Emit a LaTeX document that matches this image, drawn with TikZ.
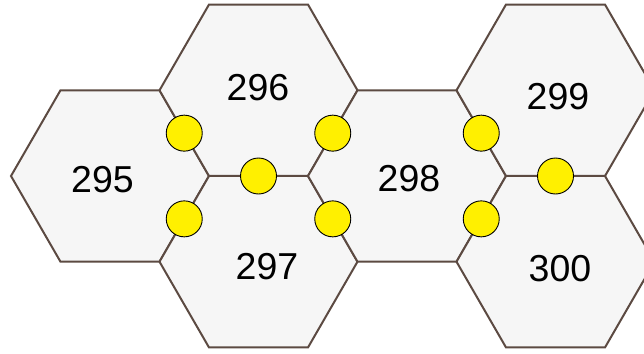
\documentclass[tikz,border=0pt]{standalone}
\usepackage{fontspec}
\setmainfont{Liberation Sans}
\usetikzlibrary{calc}
\definecolor{edgec}{RGB}{92,74,66}
\definecolor{hexfill}{RGB}{246,246,246}
\definecolor{dotc}{RGB}{255,240,0}
\tikzset{
  hexcell/.style={draw=edgec, fill=hexfill, line width=2pt, line join=miter},
  dot/.style={circle, draw=black, line width=0.9pt, fill=dotc, minimum size=36pt, inner sep=0pt},
  num/.style={inner sep=0pt, font=\fontsize{37.5}{40}\selectfont, text=black}
}
\begin{document}
\begin{tikzpicture}[x=1pt,y=-1pt]
\useasboundingbox (0,0) rectangle (644,353);
\clip (0,0) rectangle (644,353);
\fill[white] (0,0) rectangle (644,353);
\coordinate (h295) at (110,176);
\coordinate (h296) at (258.5,90.3);
\coordinate (h297) at (258.5,261.7);
\coordinate (h298) at (407,176);
\coordinate (h299) at (555.5,90.3);
\coordinate (h300) at (555.5,261.7);
\foreach \c in {h295,h296,h297,h298,h299,h300}{
  \draw[hexcell] (\c) ++(0:99) -- ++(120:99) -- ++(180:99) -- ++(240:99) -- ++(300:99) -- ++(0:99) -- cycle;
}
\node[dot] (d1) at ($(h295)!0.5!(h296)$) {};
\node[dot] (d2) at ($(h295)!0.5!(h297)$) {};
\node[dot] (d3) at ($(h296)!0.5!(h297)$) {};
\node[dot] (d4) at ($(h296)!0.5!(h298)$) {};
\node[dot] (d5) at ($(h297)!0.5!(h298)$) {};
\node[dot] (d6) at ($(h298)!0.5!(h299)$) {};
\node[dot] (d7) at ($(h298)!0.5!(h300)$) {};
\node[dot] (d8) at ($(h299)!0.5!(h300)$) {};
\node[num] (t295) at (102.5,180) {295};
\node[num] (t296) at (258,88) {296};
\node[num] (t297) at (267,267) {297};
\node[num] (t298) at (409,179) {298};
\node[num] (t299) at (558,97) {299};
\node[num] (t300) at (560,269) {300};
\end{tikzpicture}
\end{document}
